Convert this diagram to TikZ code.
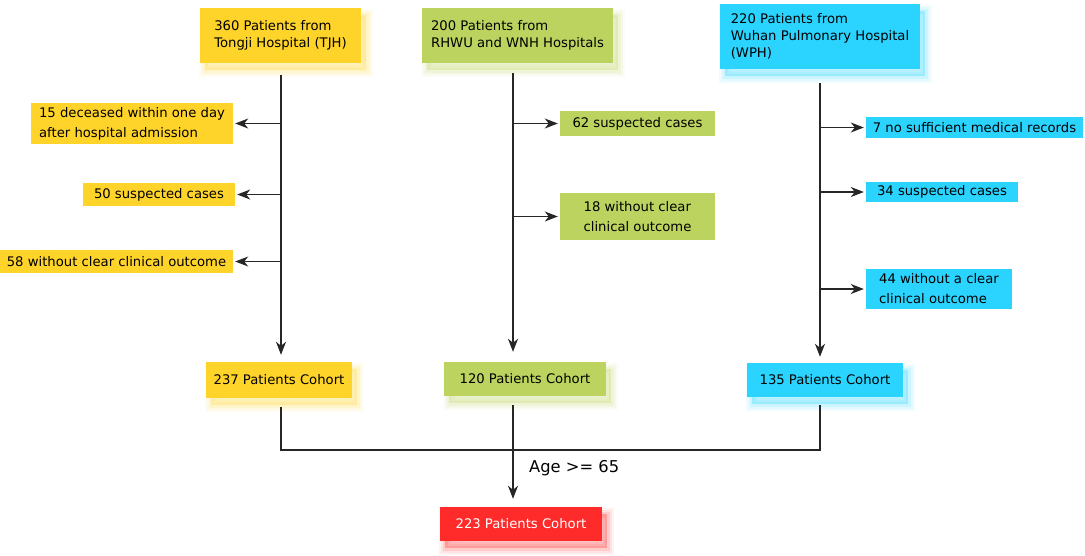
\documentclass[tikz,border=0pt]{standalone}
\usepackage{fontspec}
\setmainfont{DejaVu Sans}
\usetikzlibrary{arrows.meta,shadows}
\definecolor{tjhyellow}{HTML}{FFD42A}
\definecolor{rhgreen}{HTML}{BCD35F}
\definecolor{wphcyan}{HTML}{2AD4FF}
\definecolor{agered}{HTML}{FF2A2A}

\begin{document}
\begin{tikzpicture}[x=1pt, y=-1pt
    , box/.style = {rectangle, fill=#1, inner sep=0pt, align=left, font=\fontsize{13.2}{17}\selectfont}
    , dims/.style 2 args = {minimum width=#1pt, minimum height=#2pt}
    , glow/.style = {general shadow={draw=#1, line width=13pt, opacity=.06, shadow xshift=5pt, shadow yshift=-7pt},
                     general shadow={draw=#1, line width=9pt, opacity=.08, shadow xshift=5pt, shadow yshift=-7pt},
                     general shadow={draw=#1, line width=5pt, opacity=.12, shadow xshift=5pt, shadow yshift=-7pt},
                     general shadow={fill=#1, opacity=.3, shadow xshift=5pt, shadow yshift=-7pt}}
    , link/.style = {draw=black!85, line width=1.2pt}
    , flow/.style = {link, -{Stealth[length=13pt,width=10pt,inset=4pt]}}
]
\useasboundingbox (0,0) rectangle (1085,555);

\node[box=tjhyellow, glow=tjhyellow, dims={161}{55}] (tjh) at (280.5,35.5) {360 Patients from\\Tongji Hospital (TJH)};
\node[box=rhgreen, glow=rhgreen, dims={191}{55}] (rhwu) at (517.5,35.5) {200 Patients from\\RHWU and WNH Hospitals};
\node[box=wphcyan, glow=wphcyan, dims={200}{65}] (wph) at (820,36.5) {220 Patients from\\Wuhan Pulmonary Hospital\\(WPH)};

\node[box=tjhyellow, dims={202}{41}] (d15) at (132,123.5) {15 deceased within one day\\[3pt]after hospital admission};
\node[box=tjhyellow, dims={152}{23}] (s50) at (159,194.5) {50 suspected cases};
\node[box=tjhyellow, dims={233}{23}] (o58) at (116.5,261.5) {58 without clear clinical outcome};

\node[box=rhgreen, dims={155}{25}] (s62) at (637.5,123.5) {62 suspected cases};
\node[box=rhgreen, dims={155}{47}] (o18) at (637.5,216.5) {18 without clear\\[3pt]clinical outcome};

\node[box=wphcyan, dims={217}{21}] (r7) at (974.5,127.5) {7 no sufficient medical records};
\node[box=wphcyan, dims={152}{20}] (s34) at (942,192) {34 suspected cases};
\node[box=wphcyan, dims={146}{40}] (o44) at (939,289) {44 without a clear\\[3pt]clinical outcome};

\node[box=tjhyellow, glow=tjhyellow, dims={146}{36}] (c237) at (279,380) {237 Patients Cohort};
\node[box=rhgreen, glow=rhgreen, dims={162}{34}] (c120) at (525,379) {120 Patients Cohort};
\node[box=wphcyan, glow=wphcyan, dims={156}{34}] (c135) at (825,380) {135 Patients Cohort};
\node[box=agered, glow=agered, text=white, dims={162}{34}] (c223) at (521,524) {223 Patients Cohort};

\coordinate (tspine) at (281,75);
\coordinate (rspine) at (513,73);
\coordinate (wspine) at (820,83);
\coordinate (mj) at (512,450);

\draw[flow, shorten >=7pt] (tspine) -- (tspine |- c237.north);
\draw[flow, shorten >=10pt] (rspine) -- (rspine |- c120.north);
\draw[flow, shorten >=6pt] (wspine) -- (wspine |- c135.north);

\foreach \n in {d15,s50,o58}
    \draw[flow, shorten >=2pt] (tspine |- \n.east) -- (\n.east);
\foreach \n/\s in {s62/rspine, o18/rspine, r7/wspine, s34/wspine, o44/wspine}
    \draw[flow, shorten >=2pt] (\s |- \n.west) -- (\n.west);

\draw[link, shorten <=9pt, shorten >=8pt] (tspine |- c237.south) |- (mj) -| (wspine |- c135.south);
\draw[flow, shorten <=9pt, shorten >=8pt] (rspine |- c120.south) -- (rspine |- c223.north);
\node[anchor=west, inner sep=0pt, font=\fontsize{16.3}{20}\selectfont] (age) at (529,468) {Age >= 65};
\end{tikzpicture}
\end{document}
